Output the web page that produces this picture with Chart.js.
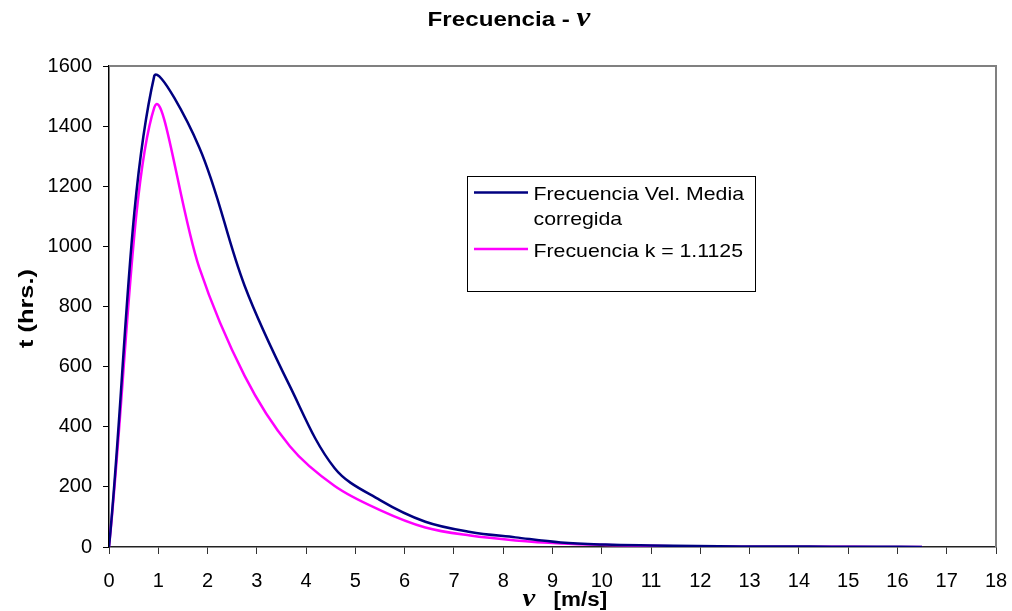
<!DOCTYPE html>
<html>
<head>
<meta charset="utf-8">
<script src="https://cdn.jsdelivr.net/npm/chart.js@4.4.0/dist/chart.umd.min.js"></script>
<style>
    html, body { margin: 0; padding: 0; background: #fff; }
    #chart { display: block; }
</style>
</head>
<body>
<canvas id="chart" width="1012" height="611"></canvas>
<script>
// ── Data ─────────────────────────────────────────────────────────────────────
const speeds = [0, 0.92, 1.83, 2.75, 3.67, 4.58, 5.5, 6.42, 7.33, 8.25, 9.17, 10.08, 11, 11.92, 12.83, 13.75, 14.67, 15.58, 16.5];
const freqCorregida = [0, 1568, 1330, 870, 535, 262, 156, 84, 50, 32, 15, 8, 5, 3, 2, 2, 1, 1, 0];
const freqK = [0, 1462, 930, 570, 335, 203, 123, 65, 38, 22, 12, 7, 4, 2, 1, 1, 1, 0, 0];

const seriesLabels = [['Frecuencia Vel. Media', 'corregida'], ['Frecuencia k = 1.1125']];
const seriesColors = ['#000080', '#ff00ff'];

const xMin = 0, xMax = 18, xStep = 1;
const yMin = 0, yMax = 1600, yStep = 200;

const titleText = 'Frecuencia - ';
const titleVar = 'v';
const xTitleUnit = '[m/s]';
const yTitleText = 't (hrs.)';

const SANS = '"Liberation Sans", Arial, sans-serif';
const SERIF = '"Liberation Serif", "Times New Roman", serif';
const SX = 1.15; // reference text is a bit wide

function toPoints(ys) {
    return speeds.map((x, i) => ({ x, y: ys[i] }));
}

// draws the title, axis titles, legend and the grey frame
const decorations = {
    id: 'decorations',
    afterDraw(chart) {
        const { ctx, chartArea: a } = chart;
        ctx.save();

        // grey frame on top and right
        ctx.strokeStyle = '#808080';
        ctx.lineWidth = 2;
        ctx.beginPath();
        ctx.moveTo(a.left, a.top);
        ctx.lineTo(a.right, a.top);
        ctx.lineTo(a.right, a.bottom);
        ctx.stroke();

        ctx.fillStyle = '#000';
        ctx.textBaseline = 'alphabetic';

        // title
        const titleFont = `bold 21px ${SANS}`;
        const varFont = `bold italic 27px ${SERIF}`;
        ctx.font = titleFont;
        const w1 = ctx.measureText(titleText).width * SX;
        ctx.font = varFont;
        const w2 = ctx.measureText(titleVar).width * SX;
        ctx.save();
        ctx.translate(509 - (w1 + w2) / 2, 26);
        ctx.scale(SX, 1);
        ctx.font = titleFont;
        ctx.fillText(titleText, 0, 0);
        ctx.font = varFont;
        ctx.fillText(titleVar, w1 / SX, 0);
        ctx.restore();

        // x axis title
        const cx = (a.left + a.right) / 2;
        ctx.save();
        ctx.translate(cx - 30, 606);
        ctx.scale(SX, 1);
        ctx.font = `bold italic 25px ${SERIF}`;
        ctx.fillText(titleVar, 0, 0);
        ctx.font = `bold 19.5px ${SANS}`;
        ctx.fillText(xTitleUnit, 27, 0);
        ctx.restore();

        // y axis title
        ctx.save();
        ctx.translate(33, (a.top + a.bottom) / 2 + 2);
        ctx.rotate(-Math.PI / 2);
        ctx.scale(1.3, 1);
        ctx.font = `bold 19.5px ${SANS}`;
        ctx.textAlign = 'center';
        ctx.fillText(yTitleText, 0, 0);
        ctx.restore();

        // legend
        const lx = 467.5, ly = 176.5, lw = 288, lh = 115;
        ctx.strokeStyle = '#000';
        ctx.lineWidth = 1;
        ctx.strokeRect(lx, ly, lw, lh);
        const rows = [{ line: 192.5, base: [199.5, 225] }, { line: 249, base: [256.5] }];
        rows.forEach((r, i) => {
            ctx.strokeStyle = seriesColors[i];
            ctx.lineWidth = 2.5;
            ctx.beginPath();
            ctx.moveTo(474, r.line);
            ctx.lineTo(528, r.line);
            ctx.stroke();
            seriesLabels[i].forEach((txt, j) => {
                ctx.save();
                ctx.translate(533.5, r.base[j]);
                ctx.scale(SX, 1);
                ctx.font = `18.5px ${SANS}`;
                ctx.fillStyle = '#000';
                ctx.fillText(txt, 0, 0);
                ctx.restore();
            });
        });

        ctx.restore();
    }
};

new Chart(document.getElementById('chart'), {
    type: 'line',
    data: {
        datasets: [
            {
                label: seriesLabels[0].join(' '),
                data: toPoints(freqCorregida),
                borderColor: seriesColors[0],
                borderWidth: 2.5,
                pointRadius: 0,
                tension: 0.35,
                fill: false
            },
            {
                label: seriesLabels[1].join(' '),
                data: toPoints(freqK),
                borderColor: seriesColors[1],
                borderWidth: 2.5,
                pointRadius: 0,
                tension: 0.35,
                fill: false
            }
        ]
    },
    options: {
        responsive: false,
        animation: false,
        layout: { padding: { top: 66, right: 16, left: 0, bottom: 0 } },
        plugins: {
            legend: { display: false },
            title: { display: false },
            tooltip: { enabled: false }
        },
        scales: {
            x: {
                type: 'linear',
                min: xMin,
                max: xMax,
                afterFit: s => { s.height = 64; s.paddingLeft = 0; s.paddingRight = 0; },
                border: { display: true, color: '#222', width: 1.5 },
                grid: { drawOnChartArea: false, drawTicks: true, tickLength: 7, color: '#333' },
                ticks: { stepSize: xStep, color: '#000', padding: 15, maxRotation: 0, font: { family: SANS, size: 20 } }
            },
            y: {
                min: yMin,
                max: yMax,
                afterFit: s => { s.width = 109; s.paddingTop = 0; s.paddingBottom = 0; },
                border: { display: true, color: '#000', width: 1.5 },
                grid: { drawOnChartArea: false, drawTicks: true, tickLength: 6, color: '#000' },
                ticks: { stepSize: yStep, color: '#000', padding: 11, font: { family: SANS, size: 20 }, callback: v => String(v) }
            }
        }
    },
    plugins: [decorations]
});
</script>
</body>
</html>
